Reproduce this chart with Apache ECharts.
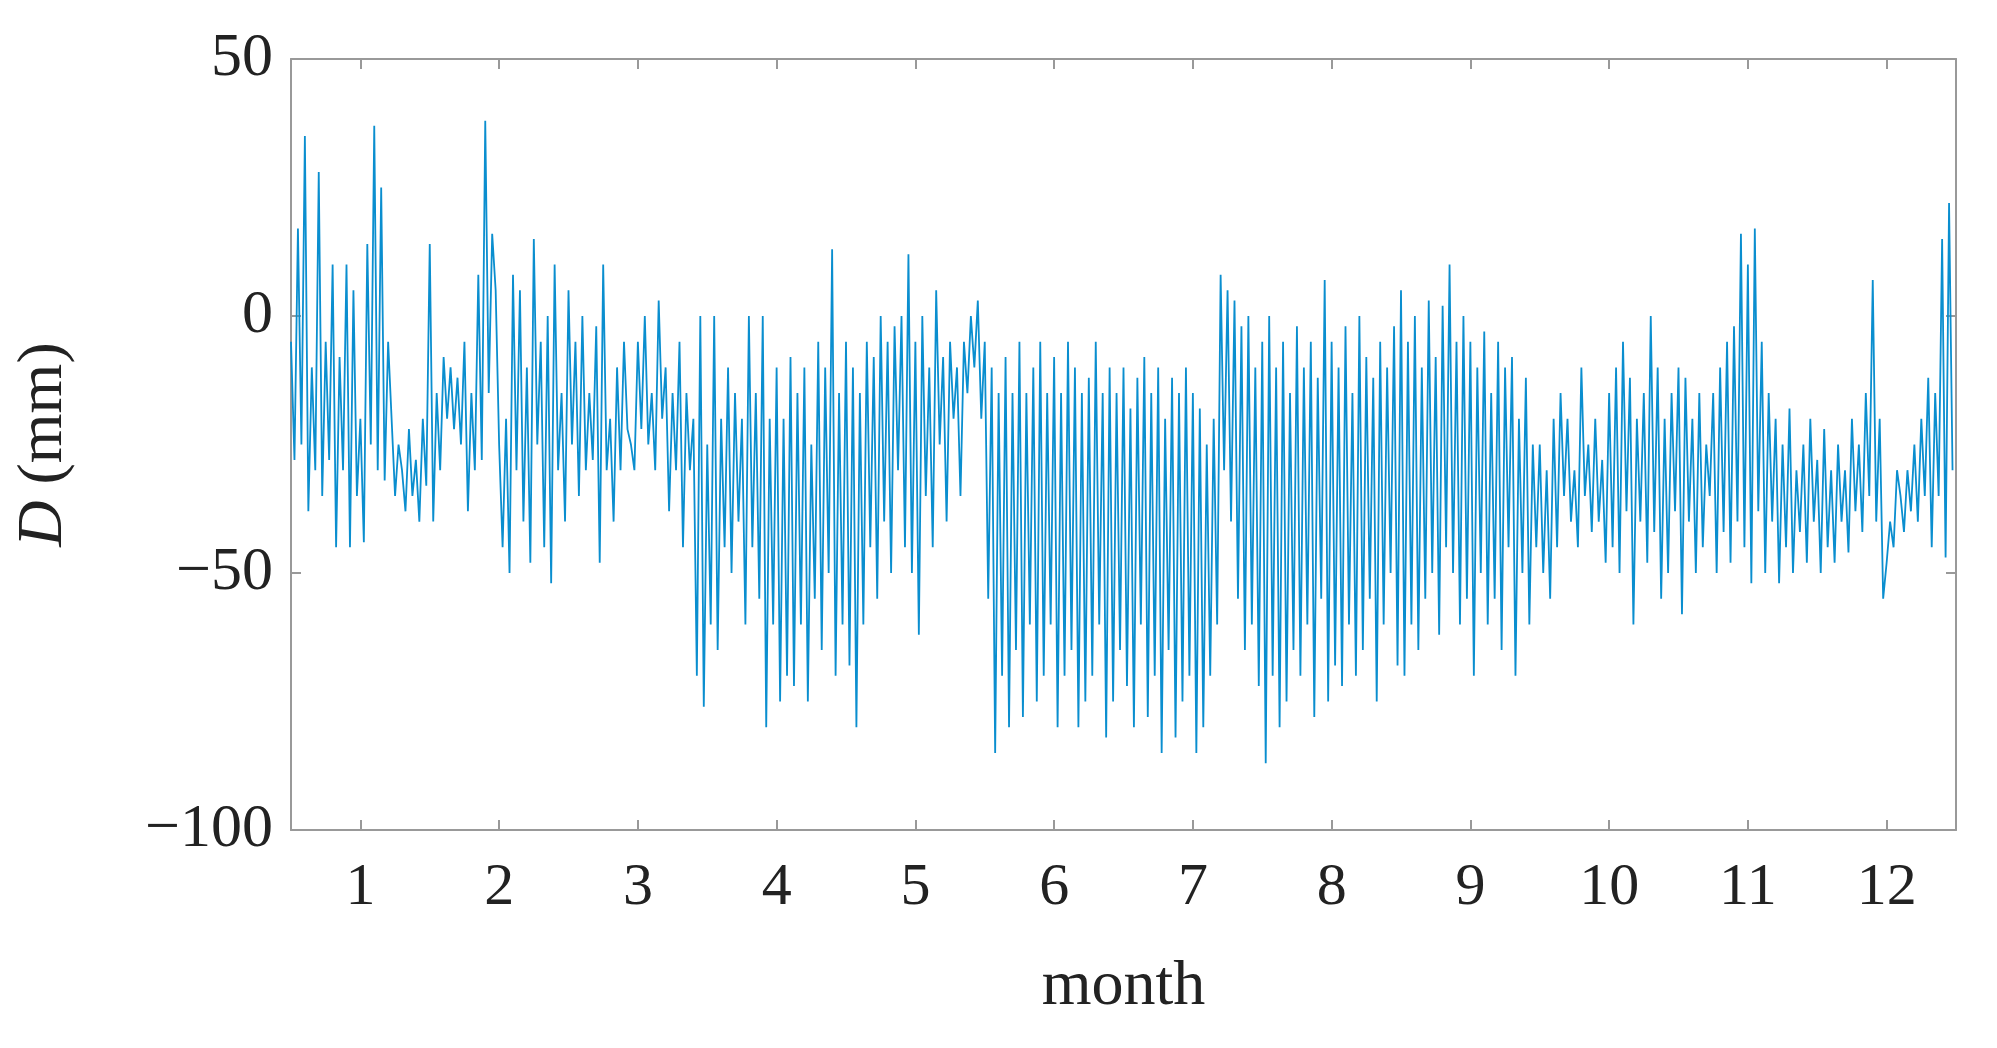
<!DOCTYPE html>
<html>
<head>
<meta charset="utf-8">
<script src="https://cdn.jsdelivr.net/npm/echarts@6/dist/echarts.min.js"></script>
<style>html,body{margin:0;background:#fff}#c{width:1997px;height:1048px}</style>
</head>
<body>
<div id="c"></div>
<script>
// half-month segments, 20 samples each, step 0.025 month from 0.5
const xStart = 0.5;
const xStep = 0.025;
const seg1 = [-5,-28,17,-25,35,-38,-10,-30,28,-35,-5,-28,10,-45,-8,-30,10,-45,5,-35];
const seg2 = [-20,-44,14,-25,37,-30,25,-32,-5,-20,-35,-25,-30,-38,-22,-35,-28,-40,-20,-33];
const seg3 = [14,-40,-15,-30,-8,-20,-10,-22,-12,-25,-5,-38,-15,-30,8,-28,38,-15,16,5];
const seg4 = [-25,-45,-20,-50,8,-30,5,-40,-10,-48,15,-25,-5,-45,0,-52,10,-30,-15,-40];
const seg5 = [5,-25,-5,-35,0,-30,-15,-28,-2,-48,10,-30,-20,-40,-10,-30,-5,-22,-25,-30];
const seg6 = [-5,-22,0,-25,-15,-30,3,-20,-10,-38,-15,-30,-5,-45,-15,-30,-20,-70,0,-76];
const seg7 = [-25,-60,0,-65,-20,-45,-10,-50,-15,-40,-20,-60,0,-45,-15,-55,0,-80,-20,-60];
const seg8 = [-10,-75,-20,-70,-8,-72,-15,-60,-10,-75,-25,-55,-5,-65,-10,-50,13,-70,-15,-60];
const seg9 = [-5,-68,-10,-80,-15,-60,-5,-45,-8,-55,0,-40,-5,-50,-2,-30,0,-45,12,-50];
const seg10 = [-5,-62,0,-35,-10,-45,5,-25,-8,-40,-5,-20,-10,-35,-5,-15,0,-10,3,-20];
const seg11 = [-5,-55,-10,-85,-15,-70,-8,-80,-15,-65,-5,-78,-15,-60,-10,-75,-5,-70,-15,-60];
const seg12 = [-8,-80,-15,-70,-5,-65,-10,-80,-15,-75,-12,-70,-5,-60,-15,-82,-10,-75,-15,-65];
const seg13 = [-10,-72,-18,-80,-12,-60,-8,-78,-15,-70,-10,-85,-20,-65,-12,-82,-15,-75,-10,-70];
const seg14 = [-15,-85,-18,-80,-25,-70,-20,-60,8,-30,5,-40,3,-55,-2,-65,0,-60,-10,-72];
const seg15 = [-5,-87,0,-70,-10,-80,-5,-75,-15,-65,-2,-70,-10,-60,-5,-78,-12,-55,7,-75];
const seg16 = [-5,-68,-10,-72,-2,-60,-15,-70,0,-65,-8,-55,-12,-75,-5,-60,-10,-50,-2,-68];
const seg17 = [5,-70,-5,-60,0,-65,-10,-55,3,-50,-8,-62,2,-45,10,-50,-5,-60,0,-55];
const seg18 = [-5,-70,-10,-50,-3,-60,-15,-55,-5,-65,-10,-45,-8,-70,-20,-50,-12,-60,-25,-45];
const seg19 = [-25,-50,-30,-55,-20,-45,-15,-35,-20,-40,-30,-45,-10,-35,-25,-42,-20,-40,-28,-48];
const seg20 = [-15,-45,-10,-50,-5,-38,-12,-60,-20,-40,-15,-48,0,-42,-10,-55,-20,-50,-15,-38];
const seg21 = [-10,-58,-12,-40,-20,-50,-15,-45,-25,-35,-15,-50,-10,-42,-5,-48,-2,-40,16,-45];
const seg22 = [10,-52,17,-38,-5,-50,-15,-40,-20,-52,-25,-45,-18,-50,-30,-42,-25,-48,-20,-40];
const seg23 = [-28,-50,-22,-45,-30,-48,-25,-40,-30,-46,-20,-38,-25,-42,-15,-35,7,-40,-20,-55];
const seg24 = [-48,-40,-45,-30,-35,-42,-30,-38,-25,-40,-20,-35,-12,-45,-15,-35,15,-47,22,-30];
const monthTicks = [1, 2, 3, 4, 5, 6, 7, 8, 9, 10, 11, 12];
const yTicks = [-100, -50, 0, 50];

const values = [].concat(seg1, seg2, seg3, seg4, seg5, seg6, seg7, seg8, seg9, seg10, seg11, seg12,
  seg13, seg14, seg15, seg16, seg17, seg18, seg19, seg20, seg21, seg22, seg23, seg24);
const data = values.map((v, i) => [xStart + i * xStep, v]);

const font = "Liberation Serif";
const chart = echarts.init(document.getElementById("c"));
const frameLine = { show: true, onZero: false, lineStyle: { color: "#999", width: 2 } };
const tick = { inside: true, length: 10, lineStyle: { color: "#999", width: 2 } };
chart.setOption({
  animation: false,
  grid: { left: 291, right: 41, top: 59, bottom: 218 },
  xAxis: [
    {
      type: "value", min: 0.5, max: 12.5,
      name: "month", nameLocation: "middle", nameGap: 125,
      nameTextStyle: { fontFamily: font, fontSize: 64, color: "#222" },
      axisLine: frameLine,
      axisTick: Object.assign({ customValues: monthTicks }, tick),
      axisLabel: {
        customValues: monthTicks,
        fontFamily: font, fontSize: 60, color: "#222", margin: 28
      },
      splitLine: { show: false }
    },
    {
      type: "value", position: "top", min: 0.5, max: 12.5,
      axisLine: frameLine,
      axisTick: Object.assign({ customValues: monthTicks }, tick),
      axisLabel: { show: false }, splitLine: { show: false }
    }
  ],
  yAxis: [
    {
      type: "value", min: yTicks[0], max: yTicks[yTicks.length - 1], interval: 50,
      name: "{i|D} (mm)", nameLocation: "middle", nameGap: 215, nameRotate: 90,
      nameTextStyle: {
        fontFamily: font, fontSize: 64, color: "#222",
        rich: { i: { fontFamily: font, fontSize: 64, fontStyle: "italic", color: "#222" } }
      },
      axisLine: frameLine,
      axisTick: tick,
      axisLabel: {
        fontFamily: font, fontSize: 62, color: "#222", margin: 18,
        formatter: v => (v < 0 ? "\u2212" + Math.abs(v) : String(v))
      },
      splitLine: { show: false }
    },
    {
      type: "value", position: "right", min: -100, max: 50, interval: 50,
      axisLine: frameLine,
      axisTick: tick,
      axisLabel: { show: false }, splitLine: { show: false }
    }
  ],
  series: [
    {
      type: "line", data: data, showSymbol: false,
      lineStyle: { color: "#0a8ecf", width: 1.8 }
    }
  ]
});
</script>
</body>
</html>
